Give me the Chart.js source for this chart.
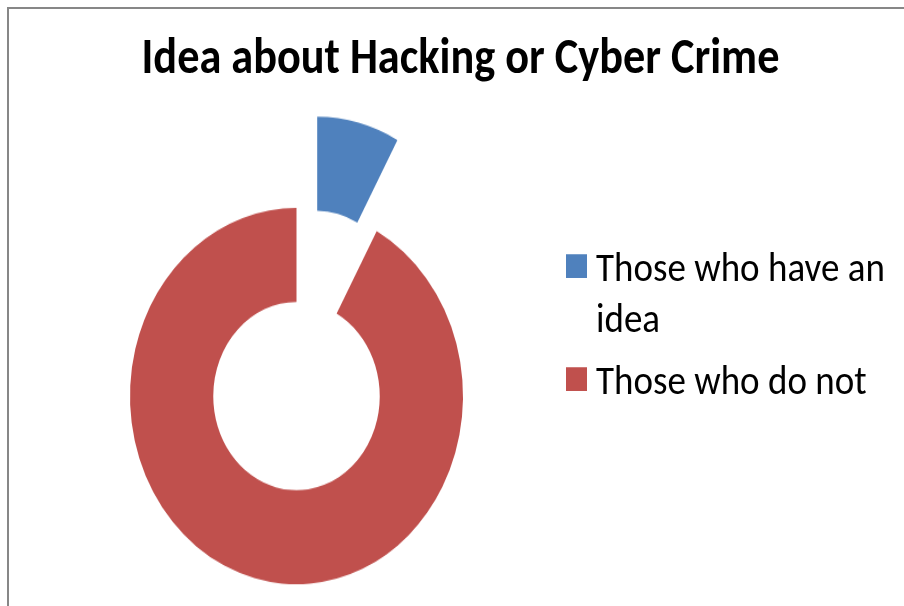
<!DOCTYPE html>
<html>
<head>
<meta charset="utf-8">
<script src="https://cdn.jsdelivr.net/npm/chart.js@4"></script>
<style>
  html, body { margin: 0; padding: 0; background: #fff; overflow: hidden; }
  body { width: 904px; height: 606px; position: relative; }
  /* moldura cinza do gráfico (só topo e esquerda aparecem) */
  .frame { position: absolute; left: 7px; top: 7px; width: 1000px; height: 700px;
           border-top: 2px solid #878787; border-left: 2px solid #878787; }
  /* a imagem original está esticada na vertical */
  .stage { position: absolute; left: 0; top: 0; width: 904px; height: 536px;
           transform: scaleY(1.13); transform-origin: 0 0; }
  #titulo { position: absolute; left: 0; top: 27.8px; width: 921px; text-align: center;
            font: bold 44.3px Calibri, Carlito, Lato, sans-serif; line-height: 44.3px; color: #000;
            white-space: nowrap; }
  #grafico { position: absolute; left: 30px; top: 83.5px; }
  #legenda { position: absolute; left: 566px; top: 213.5px; width: 338px; }
  .item { position: relative; padding-left: 30px; width: 305px;
          font: 37px Calibri, Carlito, Lato, sans-serif; line-height: 45.7px; color: #000;
          margin-bottom: 8.6px; }
  .item .box { position: absolute; left: 0; top: 11.6px; width: 20.5px; height: 20.5px; }
</style>
</head>
<body>
<div class="frame"></div>
<div class="stage">
  <div id="titulo"></div>
  <canvas id="grafico" width="533" height="533"></canvas>
  <div id="legenda"></div>
</div>
<script>
// Dados do gráfico
const tituloGrafico = 'Idea about Hacking or Cyber Crime';
const categorias = ['Those who have an idea', 'Those who do not'];
const valores = [8, 92];
const cores = ['#4F81BD', '#C0504D'];

// Plugin para afastar a fatia destacada (explode) sem aumentar o raio
const pluginExplode = {
    id: 'explode',
    afterDatasetsUpdate(chart, args, opts) {
        const meta = chart.getDatasetMeta(0);
        meta.data.forEach((arc, i) => {
            const f = (opts.fracoes || [])[i] || 0;
            if (!f) return;
            const meio = (arc.startAngle + arc.endAngle) / 2;
            const d = f * arc.outerRadius;
            arc.x += Math.cos(meio) * d;
            arc.y += Math.sin(meio) * d;
        });
    }
};

document.getElementById('titulo').textContent = tituloGrafico;

const ctx = document.getElementById('grafico').getContext('2d');
const grafico = new Chart(ctx, {
    type: 'doughnut',
    data: {
        labels: categorias,
        datasets: [{
            data: valores,
            backgroundColor: cores,
            borderWidth: 0
        }]
    },
    options: {
        responsive: false,
        animation: false,
        cutout: '50%',
        layout: { padding: 100 },
        plugins: {
            legend: { display: false },
            tooltip: { enabled: false },
            explode: { fracoes: [0.5, 0] }
        }
    },
    plugins: [pluginExplode]
});

// Legenda em HTML montada a partir dos dados do gráfico
const legenda = document.getElementById('legenda');
grafico.data.labels.forEach((nome, i) => {
    const item = document.createElement('div');
    item.className = 'item';
    item.innerHTML = `<span class="box" style="background:${grafico.data.datasets[0].backgroundColor[i]}"></span>${nome}`;
    legenda.appendChild(item);
});
</script>
</body>
</html>
